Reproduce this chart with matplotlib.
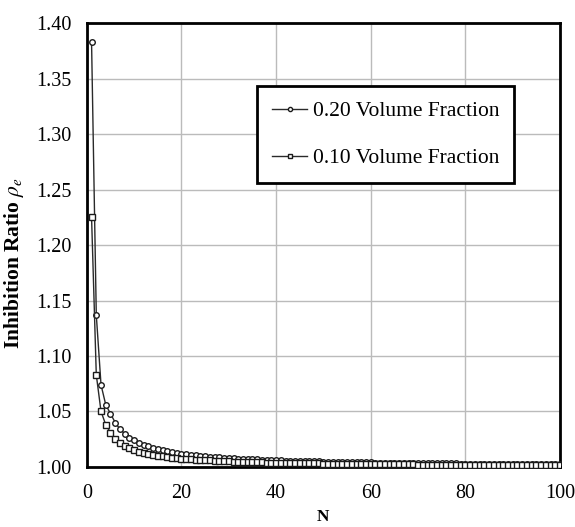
import numpy as np
import matplotlib
matplotlib.use("Agg")
import matplotlib.pyplot as plt

plt.rcParams['font.family'] = ['Liberation Serif', 'DejaVu Serif']
plt.rcParams['mathtext.fontset'] = 'stix'

N = list(range(1, 101))

# 0.20 volume fraction
rho_020 = [1.383, 1.137, 1.074, 1.056, 1.048, 1.040, 1.034, 1.030, 1.026, 1.024,
           1.0218, 1.0200, 1.0185, 1.0171, 1.0160, 1.0150, 1.0141, 1.0133, 1.0126, 1.0120,
           1.0114, 1.0109, 1.0104, 1.0100, 1.0096, 1.0092, 1.0089, 1.0086, 1.0083, 1.0080,
           1.0077, 1.0075, 1.0073, 1.0071, 1.0069, 1.0067, 1.0065, 1.0063, 1.0062, 1.0060,
           1.0059, 1.0057, 1.0056, 1.0055, 1.0053, 1.0052, 1.0051, 1.0050, 1.0049, 1.0048,
           1.0047, 1.0046, 1.0045, 1.0044, 1.0044, 1.0043, 1.0042, 1.0041, 1.0041, 1.0040,
           1.0039, 1.0039, 1.0038, 1.0038, 1.0037, 1.0036, 1.0036, 1.0035, 1.0035, 1.0034,
           1.0034, 1.0033, 1.0033, 1.0032, 1.0032, 1.0032, 1.0031, 1.0031, 1.0030, 1.0030,
           1.0030, 1.0029, 1.0029, 1.0029, 1.0028, 1.0028, 1.0028, 1.0027, 1.0027, 1.0027,
           1.0026, 1.0026, 1.0026, 1.0026, 1.0025, 1.0025, 1.0025, 1.0024, 1.0024, 1.0024]

# 0.10 volume fraction
rho_010 = [1.225, 1.083, 1.050, 1.038, 1.031, 1.025, 1.0214, 1.0188, 1.0167, 1.0150,
           1.0136, 1.0125, 1.0115, 1.0107, 1.0100, 1.0094, 1.0088, 1.0083, 1.0079, 1.0075,
           1.0071, 1.0068, 1.0065, 1.0063, 1.0060, 1.0058, 1.0056, 1.0054, 1.0052, 1.0050,
           1.0048, 1.0047, 1.0045, 1.0044, 1.0043, 1.0042, 1.0041, 1.0039, 1.0038, 1.0038,
           1.0037, 1.0036, 1.0035, 1.0034, 1.0033, 1.0033, 1.0032, 1.0031, 1.0031, 1.0030,
           1.0029, 1.0029, 1.0028, 1.0028, 1.0027, 1.0027, 1.0026, 1.0026, 1.0025, 1.0025,
           1.0025, 1.0024, 1.0024, 1.0023, 1.0023, 1.0023, 1.0022, 1.0022, 1.0022, 1.0021,
           1.0021, 1.0021, 1.0021, 1.0020, 1.0020, 1.0020, 1.0019, 1.0019, 1.0019, 1.0019,
           1.0019, 1.0018, 1.0018, 1.0018, 1.0018, 1.0017, 1.0017, 1.0017, 1.0017, 1.0017,
           1.0016, 1.0016, 1.0016, 1.0016, 1.0016, 1.0016, 1.0015, 1.0015, 1.0015, 1.0015]

fig = plt.figure(figsize=(5.75, 5.27), dpi=100)
ax = fig.add_axes([0.151, 0.114, 0.823, 0.842])

ax.plot(N, rho_020, color='#2a2a2a', lw=1.0, marker='o', ms=4, mfc='white',
        mec='#1a1a1a', mew=1.0, label='0.20 Volume Fraction', zorder=3)
ax.plot(N, rho_010, color='#2a2a2a', lw=1.0, marker='s', ms=4, mfc='white',
        mec='#1a1a1a', mew=1.0, label='0.10 Volume Fraction', zorder=3)

ax.set_xlim(0, 100)
ax.set_ylim(1.00, 1.40)
ax.set_xticks(np.arange(0, 101, 20))
ax.set_yticks(np.arange(1.00, 1.401, 0.05))
ax.set_yticklabels(['%.2f' % v for v in np.arange(1.00, 1.401, 0.05)])
ax.grid(True, color='#bbbbbb', lw=1.0)
ax.set_axisbelow(True)
ax.tick_params(length=0, labelsize=14.5)
ax.tick_params(axis='y', pad=11)
ax.tick_params(axis='x', pad=12)
for s in ax.spines.values():
    s.set_linewidth(2.0)
    s.set_color('black')

ax.set_xlabel('N', fontsize=12.5, fontweight='bold')
ax.xaxis.set_label_coords(0.5, -0.095)
ax.set_ylabel(r'Inhibition Ratio $\rho_e$', fontsize=15.5, fontweight='bold')
ax.yaxis.set_label_coords(-0.128, 0.459)

leg = ax.legend(loc='upper left', bbox_to_anchor=(0.359, 0.858), borderaxespad=0,
                fontsize=15.5, frameon=True, fancybox=False, edgecolor='black',
                handlelength=1.65, handletextpad=0.25, borderpad=0.7, labelspacing=1.25,
                framealpha=1)
leg.get_frame().set_linewidth(2.0)
for h in leg.legend_handles:
    h.set_markersize(3)

plt.savefig('out.png', dpi=100)
